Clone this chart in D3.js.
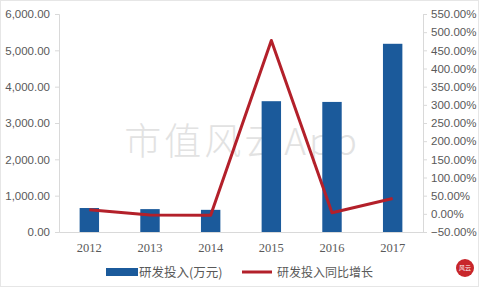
<!DOCTYPE html>
<html>
<head>
<meta charset="utf-8">
<script src="https://cdn.jsdelivr.net/npm/d3@7"></script>
<style>
  body { margin: 0; background: #fff; }
  svg { display: block; }
  .tick text { fill: #595959; font-family: "Liberation Sans", "Open Sans", sans-serif; font-size: 11.5px; }
</style>
</head>
<body>
<svg class="chart" width="479" height="287"></svg>
<script>
var years = ['2012', '2013', '2014', '2015', '2016', '2017'];
var spend = [660, 630, 610, 3600, 3580, 5180];
var growth = [11, -3, -4, 477, 3, 42];
var leftTicks = [0, 1000, 2000, 3000, 4000, 5000, 6000];
var rightTicks = [-50, 0, 50, 100, 150, 200, 250, 300, 350, 400, 450, 500, 550];
var legendNames = ['研发投入(万元)', '研发投入同比增长'];

var margin = {top: 14, right: 56, bottom: 55, left: 59};
var width = 479, height = 287;
var chartWidth = width - margin.left - margin.right;
var chartHeight = height - margin.top - margin.bottom;

var svg = d3.select('.chart');

// outer frame
svg.append('rect')
    .attr('x', 0.5).attr('y', 0.5)
    .attr('width', width - 1).attr('height', height - 1)
    .attr('fill', 'none').attr('stroke', '#e6e6e6');

var panel = svg.append('g')
    .attr('transform', 'translate(' + [margin.left, margin.top] + ')');

var scaleX = d3.scaleBand().domain(years).range([0, chartWidth]).paddingInner(0.68).paddingOuter(0.34);
var scaleY = d3.scaleLinear().domain([0, 6000]).range([chartHeight, 0]);
var scaleY2 = d3.scaleLinear().domain([-50, 550]).range([chartHeight, 0]);

// watermark
panel.append('text')
    .attr('x', 183).attr('y', 141)
    .attr('text-anchor', 'middle')
    .attr('fill', '#e2e2e2')
    .style('font-family', '"Noto Sans CJK SC", serif')
    .style('font-weight', 300)
    .style('font-size', '37px')
    .style('letter-spacing', '3px')
    .text('市值风云App');

var axisLeft = d3.axisLeft(scaleY).tickValues(leftTicks).tickSize(4).tickPadding(5)
    .tickFormat(d3.format(',.2f'));
var axisRight = d3.axisRight(scaleY2).tickValues(rightTicks).tickSize(4).tickPadding(4)
    .tickFormat(function(d){ return d3.format('.2f')(d) + '%'; });
var axisBottom = d3.axisBottom(scaleX).tickSize(0).tickPadding(11);

var gl = panel.append('g').call(axisLeft);
var gr = panel.append('g').attr('transform', 'translate(' + chartWidth + ',0)').call(axisRight);
var gb = panel.append('g').attr('transform', 'translate(0,' + chartHeight + ')').call(axisBottom);

[gl, gr, gb].forEach(function(g){
    g.select('.domain').attr('stroke', '#d9d9d9');
    g.selectAll('.tick line').attr('stroke', '#d9d9d9');
});
gb.selectAll('.tick text').style('font-family', '"Liberation Serif", serif').style('font-size', '12.5px');

panel.selectAll('.bar')
    .data(spend)
    .enter().append('rect').classed('bar', true)
    .attr('x', function(d, i){ return scaleX(years[i]); })
    .attr('y', function(d){ return scaleY(d); })
    .attr('width', scaleX.bandwidth())
    .attr('height', function(d){ return chartHeight - scaleY(d); })
    .attr('fill', '#1b5a9b');

var line = d3.line()
    .x(function(d, i){ return scaleX(years[i]) + scaleX.bandwidth() / 2; })
    .y(function(d){ return scaleY2(d); });

panel.append('path')
    .datum(growth)
    .attr('d', line)
    .attr('fill', 'none')
    .attr('stroke', '#b3202a')
    .attr('stroke-width', 3)
    .attr('stroke-linejoin', 'round');

// legend
var legend = svg.append('g').attr('transform', 'translate(0,272)');
legend.append('rect').attr('x', 106).attr('y', -4).attr('width', 32).attr('height', 8).attr('fill', '#1b5a9b');
legend.append('text').attr('x', 139).attr('y', 5)
    .attr('fill', '#595959').style('font-family', '"Noto Sans CJK SC", sans-serif').style('font-size', '12.5px')
    .text(legendNames[0]);
legend.append('line').attr('x1', 242).attr('x2', 272).attr('y1', 0).attr('y2', 0)
    .attr('stroke', '#b3202a').attr('stroke-width', 3);
legend.append('text').attr('x', 277).attr('y', 5)
    .attr('fill', '#595959').style('font-family', '"Noto Sans CJK SC", sans-serif').style('font-size', '12px')
    .text(legendNames[1]);

// seal
var seal = svg.append('g').attr('transform', 'translate(465,268)');
seal.append('circle').attr('r', 9).attr('fill', '#c8262b');
seal.append('text').attr('y', 2).attr('text-anchor', 'middle').attr('fill', '#fff')
    .style('font-family', '"Noto Sans CJK SC", sans-serif').style('font-size', '6px').text('风云');
</script>
</body>
</html>
